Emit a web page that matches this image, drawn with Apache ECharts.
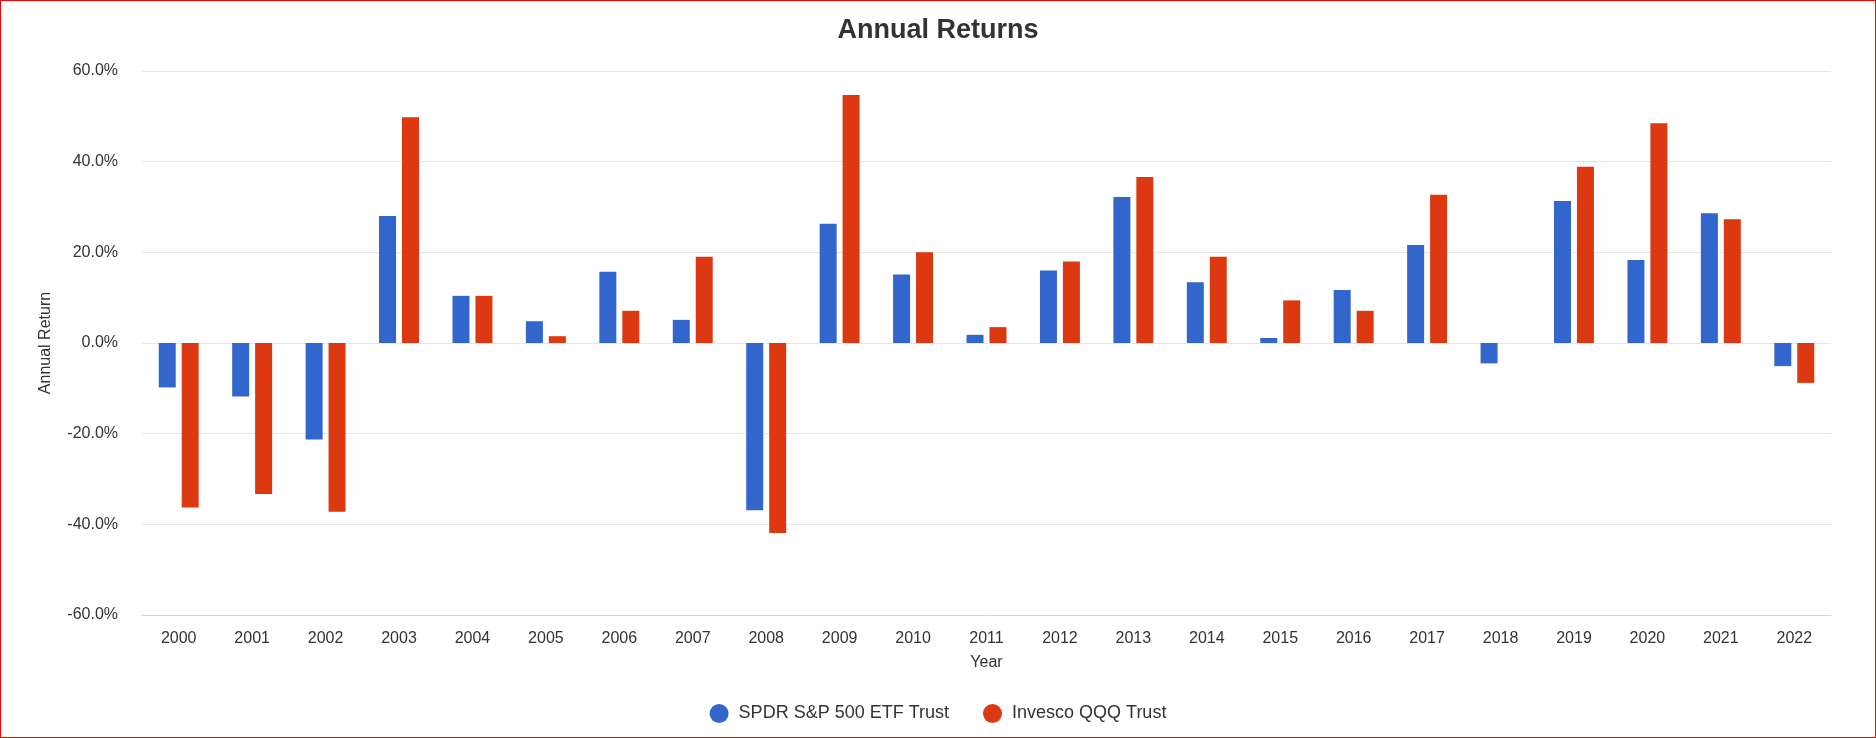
<!DOCTYPE html>
<html>
<head>
<meta charset="utf-8">
<script src="https://cdn.jsdelivr.net/npm/echarts@6/dist/echarts.min.js"></script>
<style>
  html, body { margin: 0; padding: 0; background: #fff; }
  #chart { width: 1876px; height: 738px; box-sizing: border-box; border: 1px solid #ff0000; }
</style>
</head>
<body>
<div id="chart"></div>
<script>
const years = ['2000','2001','2002','2003','2004','2005','2006','2007','2008','2009','2010','2011','2012','2013','2014','2015','2016','2017','2018','2019','2020','2021','2022'];
const spyReturns = [-9.8, -11.8, -21.3, 28.0, 10.4, 4.8, 15.7, 5.1, -36.9, 26.3, 15.1, 1.8, 16.0, 32.2, 13.4, 1.1, 11.7, 21.6, -4.5, 31.3, 18.3, 28.6, -5.1];
const qqqReturns = [-36.3, -33.3, -37.2, 49.8, 10.4, 1.5, 7.1, 19.0, -41.9, 54.7, 20.0, 3.5, 18.0, 36.6, 19.0, 9.4, 7.1, 32.7, 0.0, 38.9, 48.5, 27.3, -8.8];
const seriesNames = ['SPDR S&P 500 ETF Trust', 'Invesco QQQ Trust'];
const yTicks = { min: -60, max: 60, interval: 20 };

const chart = echarts.init(document.getElementById('chart'));
const font = 'Arial, "Liberation Sans", sans-serif';
chart.setOption({
  animation: false,
  backgroundColor: '#ffffff',
  textStyle: { fontFamily: font },
  title: {
    text: 'Annual Returns',
    left: 'center',
    top: 11,
    textStyle: { fontSize: 27, fontWeight: 'bold', color: '#333333', fontFamily: font }
  },
  legend: {
    bottom: 9,
    left: 'center',
    icon: 'circle',
    itemWidth: 19,
    itemHeight: 19,
    itemGap: 34,
    textStyle: { fontSize: 18, color: '#333333', fontFamily: font, padding: [0, 0, 0, 5] },
    data: seriesNames
  },
  grid: { left: 141, right: 44, top: 70, bottom: 122, containLabel: false },
  xAxis: {
    type: 'category',
    data: years,
    name: 'Year',
    nameLocation: 'middle',
    nameGap: 40,
    nameTextStyle: { fontSize: 16, color: '#333333' },
    axisLine: { onZero: false, lineStyle: { color: '#ccd6eb', width: 1 } },
    axisTick: { show: false },
    axisLabel: { fontSize: 16, color: '#333333', margin: 16 }
  },
  yAxis: {
    type: 'value',
    min: yTicks.min,
    max: yTicks.max,
    interval: yTicks.interval,
    name: 'Annual Return',
    nameLocation: 'middle',
    nameGap: 88,
    nameTextStyle: { fontSize: 16, color: '#333333' },
    axisLine: { show: false },
    axisTick: { show: false },
    axisLabel: { fontSize: 16, color: '#333333', margin: 24, formatter: v => v.toFixed(1) + '%' },
    splitLine: { lineStyle: { color: '#e6e6e6', width: 1 } }
  },
  series: [
    {
      name: seriesNames[0], type: 'bar', data: spyReturns,
      barWidth: 17, barGap: '35%',
      itemStyle: { color: '#3366cc' }
    },
    {
      name: seriesNames[1], type: 'bar', data: qqqReturns,
      barWidth: 17, barGap: '35%',
      itemStyle: { color: '#dc3912' }
    }
  ]
});
</script>
</body>
</html>
